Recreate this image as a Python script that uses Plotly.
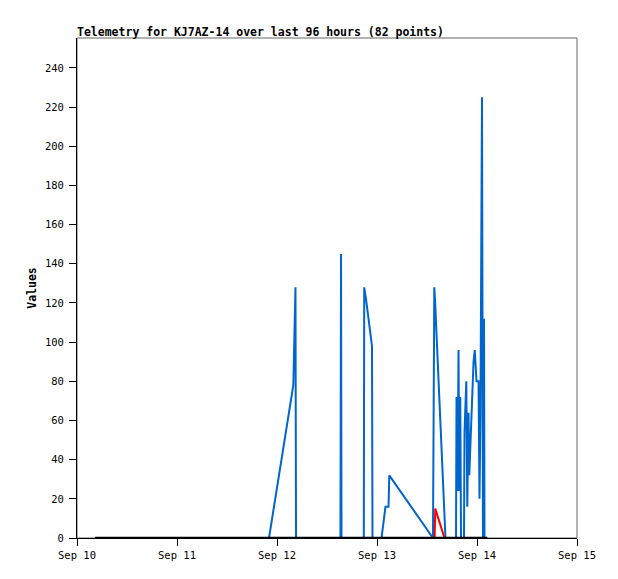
import plotly.graph_objects as go

title_text = "Telemetry for KJ7AZ-14 over last 96 hours (82 points)"

blue_times = [
    "2023-09-10 04:19", "2023-09-11 22:05", "2023-09-12 03:55", "2023-09-12 04:09",
    "2023-09-12 04:26", "2023-09-12 04:34", "2023-09-12 15:14", "2023-09-12 15:22",
    "2023-09-12 15:29", "2023-09-12 20:50", "2023-09-12 20:56", "2023-09-12 21:22",
    "2023-09-12 21:50", "2023-09-12 22:19", "2023-09-12 22:48", "2023-09-12 22:55",
    "2023-09-13 01:05", "2023-09-13 01:41", "2023-09-13 02:02", "2023-09-13 02:46",
    "2023-09-13 02:57", "2023-09-13 13:26", "2023-09-13 13:34", "2023-09-13 13:45",
    "2023-09-13 13:55", "2023-09-13 14:10", "2023-09-13 14:24", "2023-09-13 14:38",
    "2023-09-13 14:53", "2023-09-13 15:07", "2023-09-13 15:22", "2023-09-13 15:36",
    "2023-09-13 15:50", "2023-09-13 16:05", "2023-09-13 16:26", "2023-09-13 18:58",
    "2023-09-13 19:05", "2023-09-13 19:19", "2023-09-13 19:34", "2023-09-13 19:45",
    "2023-09-13 19:59", "2023-09-13 20:10", "2023-09-13 20:53", "2023-09-13 21:00",
    "2023-09-13 21:14", "2023-09-13 21:26", "2023-09-13 21:40", "2023-09-13 21:58",
    "2023-09-13 22:09", "2023-09-13 22:26", "2023-09-13 22:41", "2023-09-13 22:55",
    "2023-09-13 23:10", "2023-09-13 23:28", "2023-09-13 23:43", "2023-09-13 23:53",
    "2023-09-14 00:22", "2023-09-14 00:29", "2023-09-14 00:36", "2023-09-14 00:50",
    "2023-09-14 01:12", "2023-09-14 01:26", "2023-09-14 01:41", "2023-09-14 01:48",
]
blue_values = [
    0, 0, 78, 105,
    128, 0, 0, 145,
    0, 0, 128, 122,
    114, 106, 98, 0,
    0, 10, 16, 16,
    32, 0, 64, 128,
    122, 110, 99, 87,
    76, 64, 53, 41,
    29, 17, 0, 0,
    72, 24, 96, 24,
    72, 0, 0, 54,
    64, 80, 16, 64,
    32, 51, 64, 77,
    90, 96, 84, 80,
    80, 60, 20, 64,
    225, 0, 112, 0,
]

red_times = ["2023-09-10 04:19", "2023-09-13 13:50", "2023-09-13 13:59",
             "2023-09-13 16:12", "2023-09-14 02:28"]
red_values = [0, 0, 15, 0, 0]

black_times = ["2023-09-10 04:19", "2023-09-14 02:28"]
black_values = [0, 0]

y_ticks = list(range(0, 241, 20))
x_tick_vals = ["2023-09-10", "2023-09-11", "2023-09-12", "2023-09-13", "2023-09-14", "2023-09-15"]
x_tick_text = ["Sep 10", "Sep 11", "Sep 12", "Sep 13", "Sep 14", "Sep 15"]

FONT = "DejaVu Sans Mono"
W, H = 610, 571

fig = go.Figure()
fig.add_trace(go.Scatter(x=blue_times, y=blue_values, mode="lines",
                         line=dict(color="#0066CC", width=2), showlegend=False))
fig.add_trace(go.Scatter(x=red_times, y=red_values, mode="lines",
                         line=dict(color="#FF0000", width=2), showlegend=False))
fig.add_trace(go.Scatter(x=black_times, y=black_values, mode="lines",
                         line=dict(color="#000000", width=2.5), showlegend=False))

fig.add_shape(type="rect", xref="paper", yref="paper", x0=0, y0=0, x1=1, y1=1,
              line=dict(color="#666666", width=1), layer="below")

fig.update_layout(
    width=W, height=H,
    margin=dict(l=69, r=41, t=30, b=41),
    paper_bgcolor="white", plot_bgcolor="white",
    font=dict(family=FONT, color="black", size=10),
    title=dict(text="<b>" + title_text + "</b>", x=69 / W, xanchor="left",
               y=1 - 24 / H, yanchor="middle", font=dict(size=11.5, family=FONT)),
    xaxis=dict(range=["2023-09-10", "2023-09-15"], tickvals=x_tick_vals, ticktext=x_tick_text,
               showgrid=False, zeroline=False, showline=True, linecolor="black", linewidth=1,
               ticks="outside", ticklen=7, tickcolor="black", tickfont=dict(size=10.5)),
    yaxis=dict(range=[0, 255.3], tickvals=y_ticks, showgrid=False, zeroline=False,
               showline=True, linecolor="black", linewidth=1,
               ticks="outside", ticklen=7, tickcolor="black", tickfont=dict(size=10.5),
               ticklabelstandoff=3,
               title=dict(text="<b>Values</b>", font=dict(size=11.5), standoff=5)),
)

fig.write_html("out.html")
